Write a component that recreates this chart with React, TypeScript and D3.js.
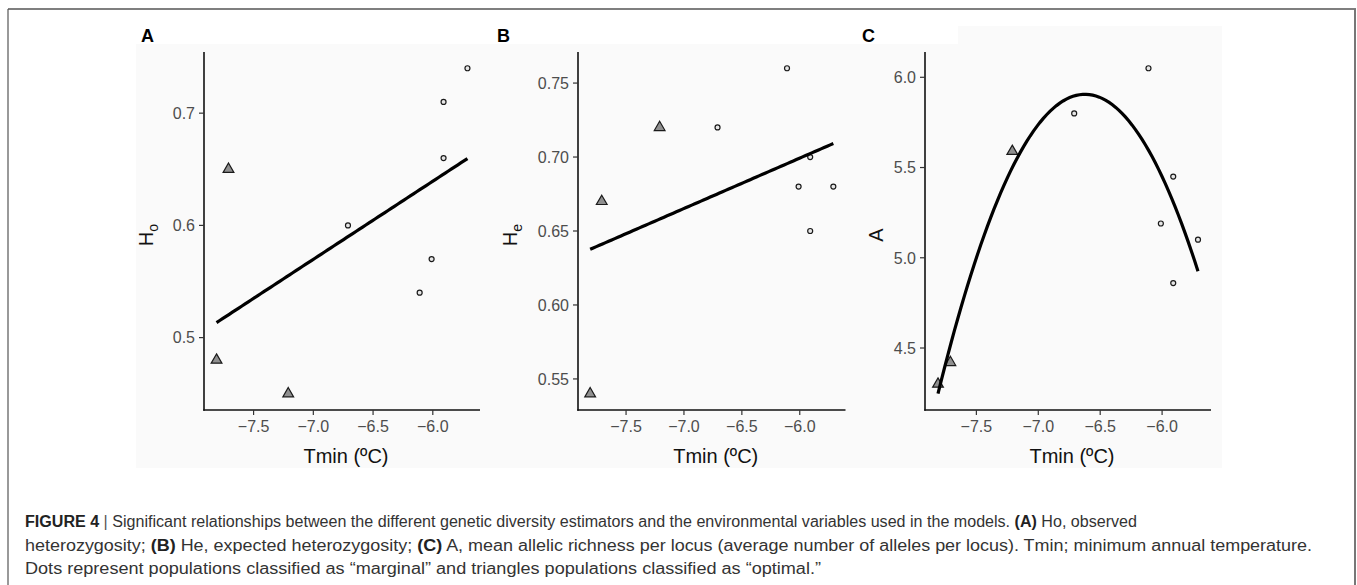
import * as d3 from 'd3';

// populations (same Tmin in every panel)
const tmin = [-7.81, -7.71, -7.21, -6.71, -6.11, -6.01, -5.91, -5.91, -5.71];
const status = ['optimal', 'optimal', 'optimal', 'marginal', 'marginal', 'marginal', 'marginal', 'marginal', 'marginal'];
const ho = [0.48, 0.65, 0.45, 0.6, 0.54, 0.57, 0.66, 0.71, 0.74];
const he = [0.54, 0.67, 0.72, 0.72, 0.76, 0.68, 0.7, 0.65, 0.68];
const allelic = [4.3, 4.42, 5.59, 5.8, 6.05, 5.19, 5.45, 4.86, 5.1];

const xTicks = [-7.5, -7.0, -6.5, -6.0];
const hoTicks = [0.5, 0.6, 0.7];
const heTicks = [0.55, 0.6, 0.65, 0.7, 0.75];
const aTicks = [4.5, 5.0, 5.5, 6.0];

const FONT = '"Liberation Sans", Arial, Helvetica, sans-serif';

// least squares fits like geom_smooth(method = lm)
function linearFit(xs: number[], ys: number[]) {
  const mx = d3.mean(xs)!;
  const my = d3.mean(ys)!;
  const sxy = d3.sum(xs, (x, i) => (x - mx) * (ys[i] - my));
  const sxx = d3.sum(xs, x => (x - mx) * (x - mx));
  const b = sxy / sxx;
  return (x: number) => my + b * (x - mx);
}

function quadFit(xs: number[], ys: number[]) {
  const mx = d3.mean(xs)!;
  const u = xs.map(x => x - mx);
  const s = (k: number) => d3.sum(u, v => Math.pow(v, k));
  const t = (k: number) => d3.sum(u, (v, i) => Math.pow(v, k) * ys[i]);
  const M = [
    [xs.length, s(1), s(2), t(0)],
    [s(1), s(2), s(3), t(1)],
    [s(2), s(3), s(4), t(2)],
  ];
  for (let i = 0; i < 3; i++) {
    for (let j = i + 1; j < 3; j++) {
      const f = M[j][i] / M[i][i];
      for (let k = i; k < 4; k++) M[j][k] -= f * M[i][k];
    }
  }
  const c = [0, 0, 0];
  for (let i = 2; i >= 0; i--) {
    let v = M[i][3];
    for (let k = i + 1; k < 3; k++) v -= M[i][k] * c[k];
    c[i] = v / M[i][i];
  }
  return (x: number) => c[0] + c[1] * (x - mx) + c[2] * (x - mx) * (x - mx);
}

function expand([a, b]: [number, number]): [number, number] {
  const d = (b - a) * 0.05;
  return [a - d, b + d];
}

interface PanelProps {
  values: number[];
  yTicks: number[];
  digits: number;
  fit: 'lm' | 'quad';
  left: number;
  right: number;
  label: string;
  labelX: number;
  title: string;
  sub: string;
  titleX: number;
}

function Panel({ values, yTicks, digits, fit, left, right, label, labelX, title, sub, titleX }: PanelProps) {
  const top = 52;
  const bottom = 410;
  const f = fit === 'lm' ? linearFit(tmin, values) : quadFit(tmin, values);
  const xExt = d3.extent(tmin) as [number, number];
  const curve = d3.range(80).map(i => {
    const x = xExt[0] + (i / 79) * (xExt[1] - xExt[0]);
    return [x, f(x)] as [number, number];
  });
  const yExt = d3.extent([...values, ...curve.map(d => d[1])]) as [number, number];

  const x = d3.scaleLinear().domain(expand(xExt)).range([left, right]);
  const y = d3.scaleLinear().domain(expand(yExt)).range([bottom, top]);
  const line = d3.line<[number, number]>().x(d => x(d[0])).y(d => y(d[1]));
  const tri = d3.symbol().type(d3.symbolTriangle).size(50)()!;
  const fmtX = (v: number) => d3.format('.1f')(v).replace('-', '\u2212');
  const fmtY = d3.format(`.${digits}f`);
  const cy = (top + bottom) / 2;

  return (
    <g fontFamily={FONT}>
      <text x={labelX} y={42} fontSize={18} fontWeight="bold" fill="#000">{label}</text>

      {tmin.map((t, i) =>
        status[i] === 'optimal' ? (
          <path key={i} d={tri} transform={`translate(${x(t)},${y(values[i])})`}
            fill="#8f8f8f" stroke="#1a1a1a" strokeWidth={1.2} />
        ) : (
          <circle key={i} cx={x(t)} cy={y(values[i])} r={2.5}
            fill="#e6e6e6" stroke="#1a1a1a" strokeWidth={1.2} />
        )
      )}
      <path d={line(curve)!} fill="none" stroke="#000" strokeWidth={3.2} />

      {/* axes */}
      <line x1={left} x2={left} y1={top} y2={bottom + 0.75} stroke="#111" strokeWidth={1.6} />
      <line x1={left - 0.75} x2={right} y1={bottom} y2={bottom} stroke="#111" strokeWidth={1.6} />
      {yTicks.map(v => (
        <g key={v}>
          <line x1={left - 5} x2={left} y1={y(v)} y2={y(v)} stroke="#333" strokeWidth={1.2} />
          <text x={left - 9} y={y(v)} dy="0.36em" textAnchor="end" fontSize={16} fill="#4d4d4d">{fmtY(v)}</text>
        </g>
      ))}
      {xTicks.map(v => (
        <g key={v}>
          <line x1={x(v)} x2={x(v)} y1={bottom} y2={bottom + 5} stroke="#333" strokeWidth={1.2} />
          <text x={x(v)} y={bottom + 22} textAnchor="middle" fontSize={16} fill="#4d4d4d">{fmtX(v)}</text>
        </g>
      ))}
      <text x={(left + right) / 2 + 4} y={463} textAnchor="middle" fontSize={20} fill="#111">Tmin (ºC)</text>
      <text transform={`translate(${titleX},${cy + 4}) rotate(-90)`} textAnchor="middle" fontSize={20} fill="#111">
        {title}
        {sub && <tspan fontSize={14} dy={5}>{sub}</tspan>}
      </text>
    </g>
  );
}

const captionLines = [
  { y: 527, len: 1112 },
  { y: 550.5, len: 1287 },
  { y: 574, len: 796 },
];

export default function App() {
  return (
    <svg width={1357} height={585} style={{ position: 'fixed', left: 0, top: 0, background: '#fff' }}>
      <rect x={136} y={44} width={1086} height={424} fill="#fafafa" />
      <rect x={958} y={26} width={264} height={18} fill="#fafafa" />

      <line x1={8} x2={1356} y1={9} y2={9} stroke="#555" strokeWidth={1.5} />
      <line x1={8} x2={8} y1={9} y2={585} stroke="#555" strokeWidth={1.2} />
      <line x1={1355} x2={1355} y1={9} y2={585} stroke="#777" strokeWidth={2} />

      <Panel values={ho} yTicks={hoTicks} digits={1} fit="lm" left={204} right={480}
        label="A" labelX={141} title="H" sub="o" titleX={153} />
      <Panel values={he} yTicks={heTicks} digits={2} fit="lm" left={578} right={845.5}
        label="B" labelX={497} title="H" sub="e" titleX={517} />
      <Panel values={allelic} yTicks={aTicks} digits={1} fit="quad" left={925} right={1211}
        label="C" labelX={862} title="A" sub="" titleX={883} />

      <g fontFamily={FONT} fontSize={16} fill="#333">
        <text x={25} y={captionLines[0].y} textLength={captionLines[0].len} lengthAdjust="spacingAndGlyphs">
          <tspan fontWeight="bold" fill="#222">FIGURE 4</tspan>
          <tspan fill="#555"> | </tspan>
          Significant relationships between the different genetic diversity estimators and the environmental variables used in the models.{' '}
          <tspan fontWeight="bold" fill="#222">(A)</tspan> Ho, observed
        </text>
        <text x={25} y={captionLines[1].y} textLength={captionLines[1].len} lengthAdjust="spacingAndGlyphs">
          heterozygosity; <tspan fontWeight="bold" fill="#222">(B)</tspan> He, expected heterozygosity;{' '}
          <tspan fontWeight="bold" fill="#222">(C)</tspan> A, mean allelic richness per locus (average number of alleles per locus). Tmin; minimum annual temperature.
        </text>
        <text x={25} y={captionLines[2].y} textLength={captionLines[2].len} lengthAdjust="spacingAndGlyphs">
          Dots represent populations classified as “marginal” and triangles populations classified as “optimal.”
        </text>
      </g>
    </svg>
  );
}
